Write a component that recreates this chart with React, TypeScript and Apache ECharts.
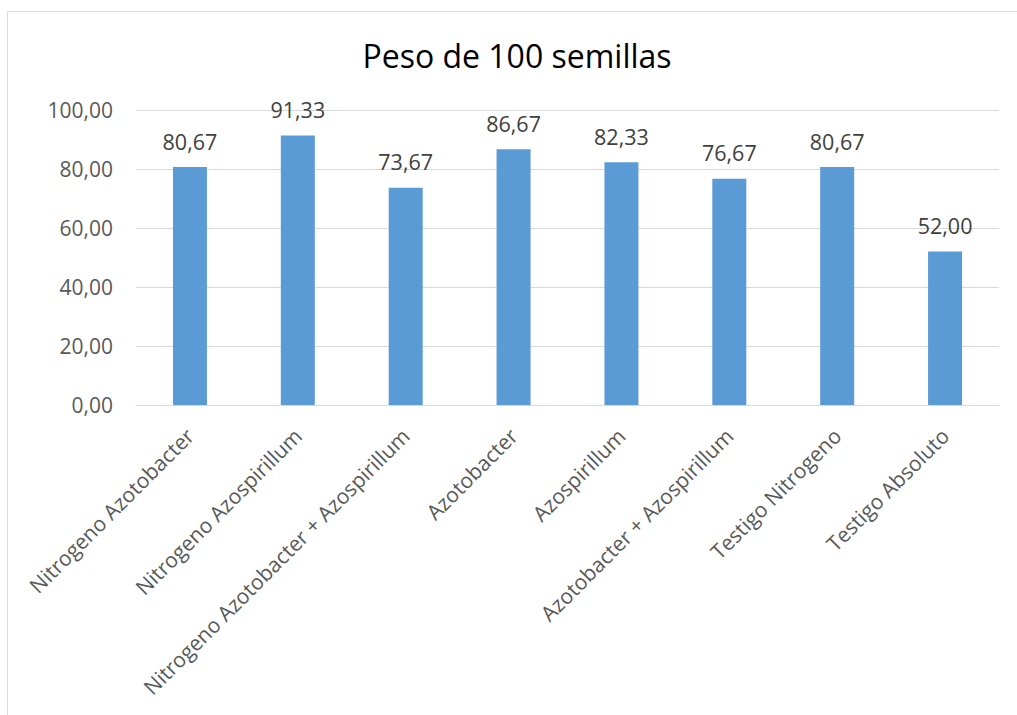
import React, { useEffect, useRef } from "react";
import * as echarts from "echarts";

const categories = [
  "Nitrogeno Azotobacter",
  "Nitrogeno Azospirillum",
  "Nitrogeno Azotobacter + Azospirillum",
  "Azotobacter",
  "Azospirillum",
  "Azotobacter + Azospirillum",
  "Testigo Nitrogeno",
  "Testigo Absoluto",
];
const values = [80.67, 91.33, 73.67, 86.67, 82.33, 76.67, 80.67, 52.0];
const titleText = "Peso de 100 semillas";
const yMin = 0;
const yMax = 100;
const yInterval = 20;

const fmt = (v: number) => v.toFixed(2).replace(".", ",");
const FONT = "Open Sans";

export default function App() {
  const ref = useRef<HTMLDivElement>(null);
  useEffect(() => {
    if (!ref.current) return;
    const chart = echarts.init(ref.current, null, { renderer: "svg" });
    chart.setOption({
      animation: false,
      backgroundColor: "#ffffff",
      graphic: [
        {
          type: "rect",
          shape: { x: 7.5, y: 11.5, width: 1040, height: 740 },
          style: { fill: "none", stroke: "#d9d9d9", lineWidth: 1 },
          silent: true,
        },
        {
          type: "text",
          x: 517,
          y: 55,
          style: {
            text: titleText,
            font: `32px "${FONT}"`,
            fill: "#000000",
            textAlign: "center",
            textVerticalAlign: "middle",
          },
        },
      ],
      grid: { left: 136, right: 18, top: 110, bottom: 310, containLabel: false },
      xAxis: {
        type: "category",
        data: categories,
        axisLine: { show: true, lineStyle: { color: "#d9d9d9", width: 1 } },
        axisTick: { show: false },
        axisLabel: {
          rotate: 45,
          interval: 0,
          margin: 27,
          color: "#595959",
          fontFamily: FONT,
          fontSize: 21,
        },
      },
      yAxis: {
        type: "value",
        min: yMin,
        max: yMax,
        interval: yInterval,
        axisLine: { show: false },
        axisTick: { show: false },
        splitLine: { lineStyle: { color: "#d9d9d9", width: 1 } },
        axisLabel: {
          margin: 23,
          color: "#595959",
          fontFamily: FONT,
          fontSize: 21,
          formatter: (v: number) => fmt(v),
        },
      },
      series: [
        {
          type: "bar",
          data: values,
          barWidth: 34,
          itemStyle: { color: "#5b9bd5" },
          label: {
            show: true,
            position: "top",
            distance: 15,
            color: "#404040",
            fontFamily: FONT,
            fontSize: 21.5,
            formatter: (p: any) => fmt(p.value),
          },
        },
      ],
    });
    return () => chart.dispose();
  }, []);
  return (
    <div
      ref={ref}
      style={{ position: "absolute", left: 0, top: 0, width: 1017, height: 715 }}
    />
  );
}
